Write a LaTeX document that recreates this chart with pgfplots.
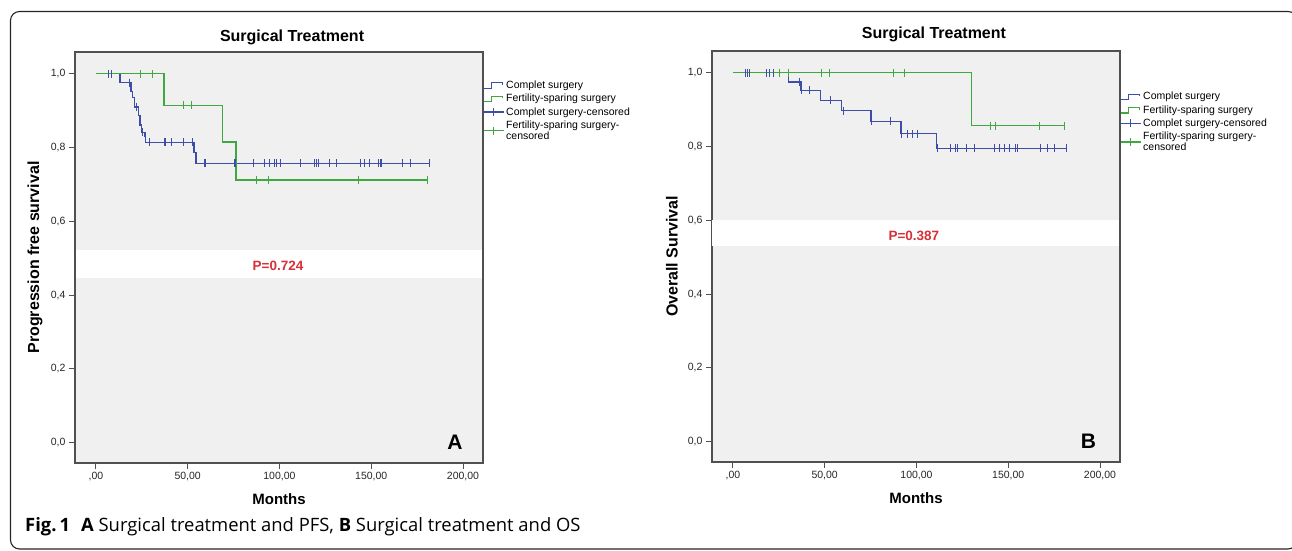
\documentclass[border=0pt]{standalone}
\usepackage{pgfplots}
\pgfplotsset{compat=1.18}
\usepackage{fontspec}
\setmainfont{Liberation Sans}
\newfontfamily\capfont{Open Sans}
\definecolor{kmblue}{RGB}{62,78,168}
\definecolor{kmgreen}{RGB}{64,168,64}
\definecolor{bggray}{RGB}{240,240,240}
\definecolor{axgray}{RGB}{80,80,80}
\definecolor{pred}{RGB}{214,48,56}

\pgfplotsset{kmaxis/.style={
  scale only axis, width=408pt, height=411pt,
  xmin=-11.4, xmax=210.9, ymin=-0.055, ymax=1.059,
  axis background/.style={fill=bggray},
  axis line style={draw=axgray, line width=1.3pt},
  tick pos=left, tick align=outside, major tick length=6pt,
  every tick/.style={draw=axgray, line width=1pt},
  xtick={0,50,100,150,200},
  xticklabels={{,00},{50,00},{100,00},{150,00},{200,00}},
  ytick={0,0.2,0.4,0.6,0.8,1},
  yticklabels={{0,0},{0,2},{0,4},{0,6},{0,8},{1,0}},
  tick label style={font=\fontsize{10.5}{12}\selectfont, text=black!85},
  xlabel={Months},
  xlabel style={font=\bfseries\fontsize{15}{17}\selectfont, at={(axis description cs:0.5,-0.0876)}, anchor=center},
  ylabel style={font=\bfseries\fontsize{16}{18}\selectfont, at={(axis description cs:-0.098,0.5)}, anchor=center},
  title style={font=\bfseries\fontsize{16}{18}\selectfont, at={(axis description cs:0.532,1.022)}, anchor=center},
  legend cell align=left,
  legend style={anchor=north west, draw=none, fill=none, inner sep=0pt, outer sep=0pt,
    font=\fontsize{10.5}{9.5}\selectfont, cells={align=left}, row sep=0pt, column sep=0pt,
    nodes={inner sep=2.1pt}},
  stepline/.style={const plot, line width=1.2pt, no marks},
  censor/.style={only marks, mark=|, mark size=4pt, mark options={line width=1pt}},
  stepicon/.style={legend image code/.code={\draw[#1, line width=1.1pt] (0pt,-3pt) -- (8pt,-3pt) -- (8pt,2.5pt) -- (19pt,2.5pt) -- (19pt,0.5pt);}},
  censicon/.style={legend image code/.code={\draw[#1, line width=1.1pt] (0pt,0pt) -- (20pt,0pt); \draw[#1, line width=1.1pt] (10pt,-4pt) -- (10pt,4pt);}},
}}

\begin{document}
\begin{tikzpicture}
\useasboundingbox (0,0) rectangle (1292pt,550pt);

% ---------------- Panel A ----------------
\begin{axis}[kmaxis, at={(75pt,87pt)}, anchor=south west,
  title={Surgical Treatment}, ylabel={Progression free survival},
  legend style={at={(rel axis cs:1,0.935)}}]
\fill[white] (axis cs:-10.8,0.447) rectangle (axis cs:210.3,0.523);
\addplot[kmblue, stepline, stepicon=kmblue]
  coordinates {(0,1) (13.1,0.976) (19.1,0.953) (20.0,0.935) (20.9,0.910) (23.1,0.886) (24.0,0.861) (24.9,0.841) (26.7,0.829) (27.2,0.814) (53.4,0.786) (54.5,0.757) (181.5,0.757)};
\addlegendentry{Complet surgery}
\addplot[kmgreen, stepline, stepicon=kmgreen]
  coordinates {(0,1) (37.1,0.915) (69.0,0.815) (76.3,0.712) (180.6,0.712)};
\addlegendentry{Fertility-sparing surgery}
\addplot[kmblue, censor, censicon=kmblue]
  coordinates {(6.7,1) (8.5,1) (18.5,0.976) (22.2,0.910) (25.4,0.841) (29.4,0.814) (37.2,0.814) (38.0,0.814) (41.2,0.814) (47.6,0.814) (52.7,0.814)
  (59.4,0.757) (59.8,0.757) (75.4,0.757) (76.1,0.757) (85.9,0.757) (92.1,0.757) (94.8,0.757) (97.5,0.757) (98.5,0.757) (100.3,0.757)
  (111.7,0.757) (119.3,0.757) (120.3,0.757) (121.5,0.757) (127.5,0.757) (131.2,0.757) (143.9,0.757) (146.6,0.757) (149.3,0.757)
  (153.9,0.757) (154.8,0.757) (155.7,0.757) (166.9,0.757) (171.5,0.757) (181.5,0.757)};
\addlegendentry{Complet surgery-censored}
\addplot[kmgreen, censor, censicon=kmgreen]
  coordinates {(24.5,1) (30.9,1) (47.6,0.915) (52.3,0.915) (87.6,0.712) (93.9,0.712) (143.0,0.712) (180.6,0.712)};
\addlegendentry{Fertility-sparing surgery-\\censored}
\node[text=pred, font=\bfseries\fontsize{13.5}{15}\selectfont] at (axis cs:99.2,0.479) {P=0.724};
\node[font=\bfseries\fontsize{21}{24}\selectfont] at (axis cs:195.6,0.0) {A};
\end{axis}

% ---------------- Panel B ----------------
\begin{axis}[kmaxis, at={(712pt,88pt)}, anchor=south west,
  title={Surgical Treatment}, ylabel={Overall Survival},
  title style={at={(axis description cs:0.544,1.027)}},
  legend style={at={(rel axis cs:1,0.905)}}]
\fill[white] (axis cs:-11.4,0.53) rectangle (axis cs:210.3,0.60);
\addplot[kmblue, stepline, stepicon=kmblue]
  coordinates {(0,1) (30.2,0.975) (37.1,0.952) (47.6,0.925) (59.2,0.897) (75.2,0.868) (91.6,0.835) (111.0,0.795) (181.5,0.795)};
\addlegendentry{Complet surgery}
\addplot[kmgreen, stepline, stepicon=kmgreen]
  coordinates {(0,1) (130.1,0.857) (180.9,0.857)};
\addlegendentry{Fertility-sparing surgery}
\addplot[kmblue, censor, censicon=kmblue]
  coordinates {(7.1,1) (8.0,1) (8.9,1) (18.5,1) (19.8,1) (22.0,1) (36.5,0.975) (37.6,0.952) (41.6,0.952) (53.0,0.925) (60.3,0.897)
  (75.6,0.868) (86.1,0.868) (92.1,0.835) (95.2,0.835) (97.9,0.835) (100.6,0.835)
  (111.5,0.795) (118.8,0.795) (121.0,0.795) (122.1,0.795) (127.5,0.795) (131.5,0.795) (142.4,0.795) (145.1,0.795) (147.9,0.795)
  (150.6,0.795) (154.2,0.795) (155.1,0.795) (167.5,0.795) (171.5,0.795) (175.1,0.795) (181.5,0.795)};
\addlegendentry{Complet surgery-censored}
\addplot[kmgreen, censor, censicon=kmgreen]
  coordinates {(25.2,1) (30.2,1) (48.0,1) (52.5,1) (87.6,1) (93.7,1) (140.6,0.857) (143.0,0.857) (166.9,0.857) (180.9,0.857)};
\addlegendentry{Fertility-sparing surgery-\\censored}
\node[text=pred, font=\bfseries\fontsize{13.5}{15}\selectfont] at (axis cs:98.6,0.557) {P=0.387};
\node[font=\bfseries\fontsize{21}{24}\selectfont] at (axis cs:193.7,0.0) {B};
\end{axis}

% caption and frame
\node[anchor=base west, inner sep=0pt] at (25pt,18.3pt)
  {\capfont\fontsize{18.4}{20}\selectfont\textbf{Fig.\,1}\hspace{0.6em}\textbf{A} Surgical treatment and PFS, \textbf{B} Surgical treatment and OS};
\draw[black!85, line width=1.1pt, rounded corners=9pt] (10.5pt,1pt) rectangle (1297pt,538.5pt);
\end{tikzpicture}
\end{document}
